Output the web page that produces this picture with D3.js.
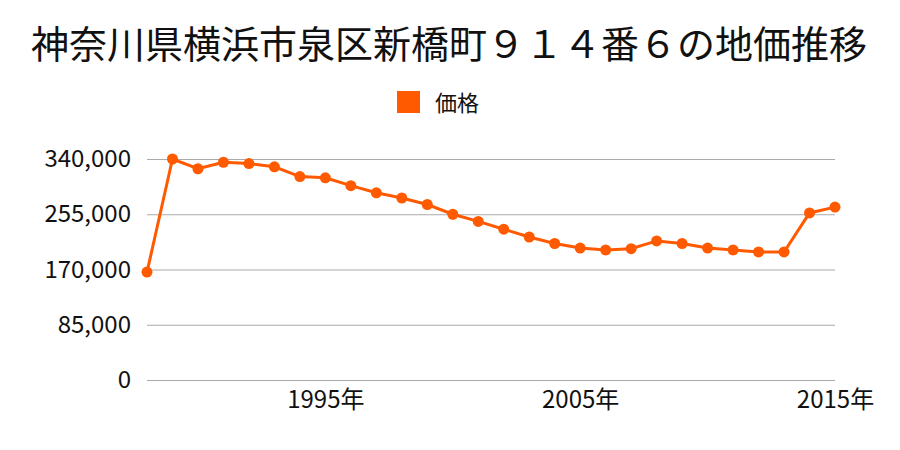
<!DOCTYPE html>
<html><head><meta charset="utf-8">
<script src="https://cdn.jsdelivr.net/npm/d3@7"></script>
<style>body{margin:0;background:#fff}svg{display:block}</style>
</head><body>
<svg id="c" width="900" height="450"></svg>
<script>
const title = "神奈川県横浜市泉区新橋町９１４番６の地価推移";
const seriesName = "価格";
const years = [1988,1989,1990,1991,1992,1993,1994,1995,1996,1997,1998,1999,2000,2001,2002,2003,2004,2005,2006,2007,2008,2009,2010,2011,2012,2013,2014,2015];
const prices = [166000,340000,325000,335000,333000,328000,313000,311000,299000,288000,280000,270000,255000,244000,232000,220000,210000,203000,200000,202000,214000,210000,203000,200000,197000,197000,257000,266000];
const yTicks = [0,85000,170000,255000,340000];
const xTicks = [1995,2005,2015];

const font = "'Noto Sans CJK JP', sans-serif";
const color = "#ff5a00";
const svg = d3.select("#c");
const x = d3.scaleLinear().domain([1988,2015]).range([147,835]);
const y = d3.scaleLinear().domain([0,340000]).range([380,159]);

svg.append("text").attr("x",449).attr("y",58).attr("text-anchor","middle")
  .attr("font-family",font).attr("font-size",38).attr("fill","#111").text(title);

svg.append("rect").attr("x",397).attr("y",91).attr("width",23).attr("height",22).attr("fill",color);
svg.append("text").attr("x",435).attr("y",111).attr("font-family",font).attr("font-size",22).attr("fill","#111").text(seriesName);

const yAxis = d3.axisLeft(y).tickValues(yTicks).tickSize(-(835-147)).tickPadding(16)
  .tickFormat(d3.format(","));
const gy = svg.append("g").attr("transform","translate(147,0)").call(yAxis);
gy.select(".domain").remove();
gy.selectAll(".tick line").attr("stroke","#aaa").attr("stroke-width",1);
gy.selectAll(".tick text").attr("font-family",font).attr("font-size",24).attr("fill","#111");

const xAxis = d3.axisBottom(x).tickValues(xTicks).tickSize(0).tickPadding(11).tickFormat(d=>d+"年");
const gx = svg.append("g").attr("transform","translate(0,380)").call(xAxis);
gx.select(".domain").remove();
gx.selectAll(".tick text").attr("font-family",font).attr("font-size",24).attr("fill","#111");

const data = years.map((yr,i)=>({yr, v:prices[i]}));
svg.append("path").datum(data).attr("fill","none").attr("stroke",color).attr("stroke-width",3)
  .attr("d", d3.line().x(d=>x(d.yr)).y(d=>y(d.v)));
svg.selectAll("circle.pt").data(data).join("circle").attr("class","pt")
  .attr("cx",d=>x(d.yr)).attr("cy",d=>y(d.v)).attr("r",5.5).attr("fill",color);
</script>
</body></html>
